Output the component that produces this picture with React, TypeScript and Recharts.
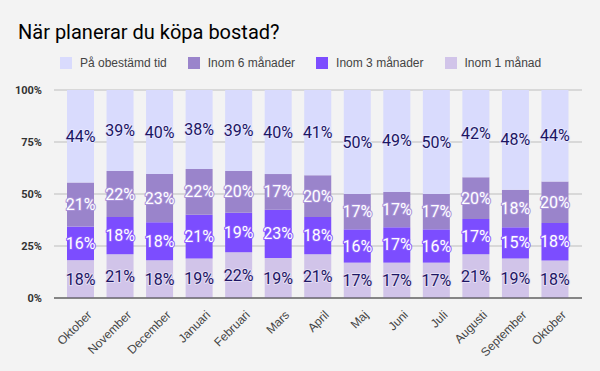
import { BarChart, Bar, XAxis, YAxis, CartesianGrid, LabelList } from 'recharts';

const months = [
  'Oktober', 'November', 'December', 'Januari', 'Februari', 'Mars', 'April',
  'Maj', 'Juni', 'Juli', 'Augusti', 'September', 'Oktober',
];
const inom1 = [18, 21, 18, 19, 22, 19, 21, 17, 17, 17, 21, 19, 18];
const inom3 = [16, 18, 18, 21, 19, 23, 18, 16, 17, 16, 17, 15, 18];
const inom6 = [21, 22, 23, 22, 20, 17, 20, 17, 17, 17, 20, 18, 20];
const obestamd = [44, 39, 40, 38, 39, 40, 41, 50, 49, 50, 42, 48, 44];
const yTicks = [0, 0.25, 0.5, 0.75, 1];

const data = months.map((m, i) => ({
  idx: i,
  month: m,
  inom1: inom1[i],
  inom3: inom3[i],
  inom6: inom6[i],
  obestamd: obestamd[i],
}));

const series = [
  { key: 'inom1', name: 'Inom 1 månad', color: '#d1c4e9', text: '#1c1563', halo: '#e4ddf3' },
  { key: 'inom3', name: 'Inom 3 månader', color: '#7c4dff', text: '#ffffff', halo: '#8a5cff' },
  { key: 'inom6', name: 'Inom 6 månader', color: '#9a84cb', text: '#ffffff', halo: '#a892d8' },
  { key: 'obestamd', name: 'På obestämd tid', color: '#d9dbfd', text: '#1c1563', halo: '#e6e7ff' },
];

const legendOrder = ['obestamd', 'inom6', 'inom3', 'inom1'];

function MonthTick(props: any) {
  const { x, y, payload } = props;
  return (
    <g transform={`translate(${x + 6},${y + 4}) rotate(-45)`}>
      <text textAnchor="end" dy={8} fontSize={12} fill="#444" fontFamily="Liberation Sans, Arial, sans-serif">
        {months[payload.value]}
      </text>
    </g>
  );
}

function makeLabel(s: any) {
  return (props: any) => {
    const { x, y, width, height, value } = props;
    const v = Array.isArray(value) ? value[1] - value[0] : value;
    return (
      <text
        x={x + width / 2}
        y={y + height / 2}
        textAnchor="middle"
        dominantBaseline="central"
        fontSize={16}
        fontFamily="Roboto, sans-serif"
        fill={s.text}
        stroke={s.halo}
        strokeWidth={2}
        paintOrder="stroke"
        strokeLinejoin="round"
      >
        {`${v}%`}
      </text>
    );
  };
}

export default function App() {
  return (
    <div
      style={{
        position: 'absolute',
        left: 0,
        top: 0,
        width: 600,
        height: 371,
        background: '#f3f3f3',
      }}
    >
      {/* Title */}
      <div
        style={{
          position: 'absolute',
          left: 18,
          top: 20,
          fontSize: 20,
          fontFamily: 'Roboto, sans-serif',
          color: '#000',
        }}
      >
        När planerar du köpa bostad?
      </div>

      {/* Legend */}
      <div
        style={{
          position: 'absolute',
          left: 60,
          top: 56,
          display: 'flex',
          fontSize: 12,
          fontFamily: 'Liberation Sans, Arial, sans-serif',
          color: '#444',
        }}
      >
        {legendOrder.map((k) => {
          const s = series.find((d) => d.key === k)!;
          return (
            <div key={k} style={{ display: 'flex', alignItems: 'center', marginRight: 21 }}>
              <span style={{ width: 12, height: 12, background: s.color, marginRight: 8, display: 'inline-block' }} />
              <span>{s.name}</span>
            </div>
          );
        })}
      </div>

      <BarChart
        width={600}
        height={371}
        data={data}
        stackOffset="expand"
        barSize={27}
        margin={{ top: 90, right: 18, bottom: 0, left: 0 }}
        style={{ position: 'absolute', left: 0, top: 0 }}
      >
        <CartesianGrid vertical={false} stroke="#bdbdbd" />
        <XAxis
          dataKey="idx"
          type="category"
          height={73}
          tick={<MonthTick />}
          tickLine={false}
          axisLine={{ stroke: '#333' }}
          interval={0}
          padding={{ left: 7, right: 7 }}
        />
        <YAxis
          width={54}
          ticks={yTicks}
          domain={[0, 1]}
          tickFormatter={(v: number) => `${Math.round(v * 100)}%`}
          tick={{ fontSize: 11, fontWeight: 'bold', fill: '#333', fontFamily: 'Roboto, sans-serif' }}
          tickLine={false}
          axisLine={false}
          tickMargin={6}
        />
        {series.map((s) => (
          <Bar key={s.key} dataKey={s.key} name={s.name} stackId="a" fill={s.color} isAnimationActive={false}>
            <LabelList dataKey={s.key} content={makeLabel(s)} />
          </Bar>
        ))}
      </BarChart>
    </div>
  );
}
